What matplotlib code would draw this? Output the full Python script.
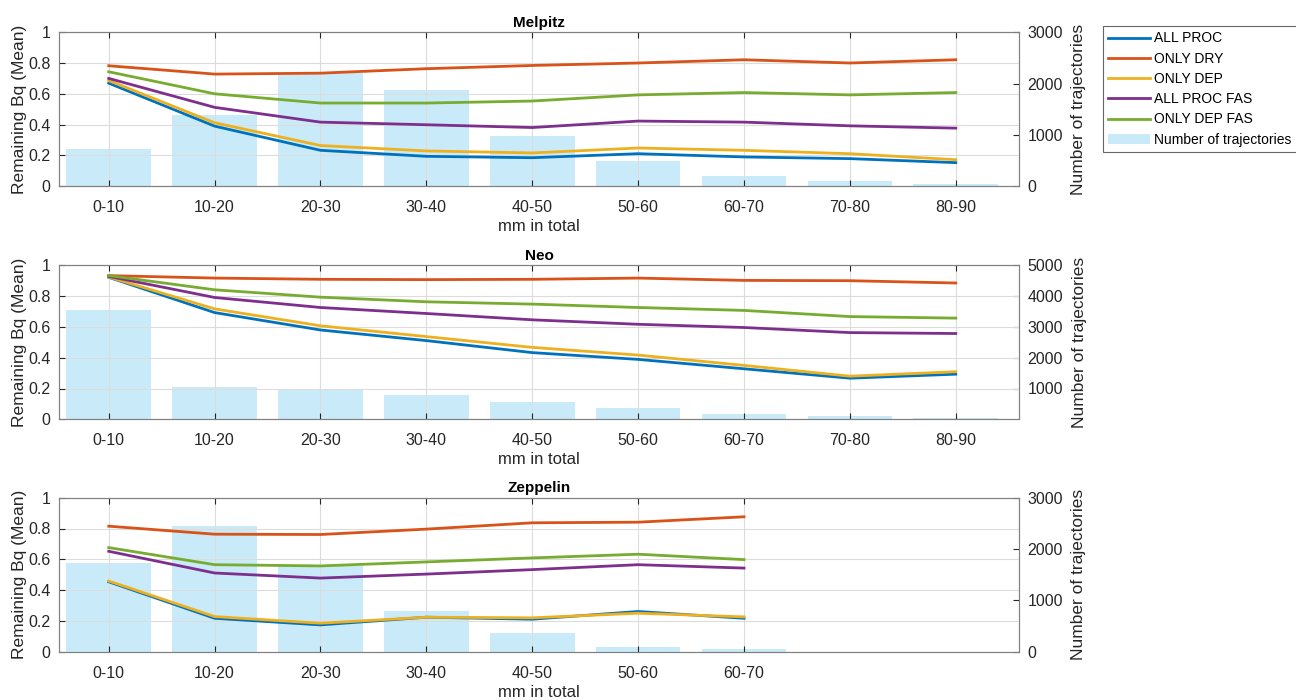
import numpy as np
import matplotlib
matplotlib.use("Agg")
import matplotlib.pyplot as plt

plt.rcParams["font.family"] = ["Liberation Sans", "DejaVu Sans"]

bins = ["0-10", "10-20", "20-30", "30-40", "40-50", "50-60", "60-70", "70-80", "80-90"]
series_names = ["ALL PROC", "ONLY DRY", "ONLY DEP", "ALL PROC FAS", "ONLY DEP FAS"]
series_colors = ["#0072BD", "#D95319", "#EDB120", "#7E2F8E", "#77AC30"]

# Melpitz
melpitz_counts = [720, 1385, 2200, 1870, 975, 495, 200, 97, 45]
melpitz_all_proc = [0.669, 0.390, 0.233, 0.194, 0.185, 0.211, 0.190, 0.179, 0.153]
melpitz_only_dry = [0.782, 0.728, 0.734, 0.763, 0.784, 0.800, 0.821, 0.800, 0.821]
melpitz_only_dep = [0.686, 0.412, 0.264, 0.229, 0.216, 0.248, 0.233, 0.211, 0.172]
melpitz_all_proc_fas = [0.700, 0.512, 0.416, 0.399, 0.381, 0.423, 0.416, 0.392, 0.377]
melpitz_only_dep_fas = [0.743, 0.600, 0.540, 0.540, 0.553, 0.593, 0.608, 0.593, 0.608]

# Neo
neo_counts = [3555, 1035, 1000, 805, 565, 360, 165, 98, 54]
neo_all_proc = [0.922, 0.693, 0.580, 0.511, 0.433, 0.389, 0.328, 0.267, 0.293]
neo_only_dry = [0.933, 0.917, 0.909, 0.907, 0.909, 0.917, 0.902, 0.900, 0.885]
neo_only_dep = [0.924, 0.717, 0.607, 0.537, 0.467, 0.417, 0.350, 0.280, 0.309]
neo_all_proc_fas = [0.928, 0.791, 0.726, 0.687, 0.646, 0.617, 0.596, 0.563, 0.557]
neo_only_dep_fas = [0.933, 0.841, 0.793, 0.763, 0.748, 0.726, 0.707, 0.667, 0.657]

# Zeppelin (only up to 60-70 mm)
zeppelin_counts = [1730, 2445, 1675, 790, 360, 85, 46]
zeppelin_all_proc = [0.454, 0.217, 0.174, 0.224, 0.211, 0.261, 0.217]
zeppelin_only_dry = [0.815, 0.763, 0.761, 0.796, 0.837, 0.841, 0.876]
zeppelin_only_dep = [0.459, 0.228, 0.185, 0.224, 0.220, 0.250, 0.226]
zeppelin_all_proc_fas = [0.652, 0.511, 0.478, 0.504, 0.533, 0.565, 0.543]
zeppelin_only_dep_fas = [0.676, 0.565, 0.557, 0.583, 0.609, 0.633, 0.598]

stations = [
    ("Melpitz", melpitz_counts,
     [melpitz_all_proc, melpitz_only_dry, melpitz_only_dep, melpitz_all_proc_fas, melpitz_only_dep_fas],
     3000, [0, 1000, 2000, 3000]),
    ("Neo", neo_counts,
     [neo_all_proc, neo_only_dry, neo_only_dep, neo_all_proc_fas, neo_only_dep_fas],
     5000, [1000, 2000, 3000, 4000, 5000]),
    ("Zeppelin", zeppelin_counts,
     [zeppelin_all_proc, zeppelin_only_dry, zeppelin_only_dep, zeppelin_all_proc_fas, zeppelin_only_dep_fas],
     3000, [0, 1000, 2000, 3000]),
]

bar_color = (0.30, 0.75, 0.93, 0.30)
axis_color = "#262626"

fig = plt.figure(figsize=(12.96, 7.0), dpi=100)
bottoms = [0.734, 0.401, 0.069]

for (name, counts, lines, cmax, rticks), b in zip(stations, bottoms):
    ax = fig.add_axes([0.0455, b, 0.741, 0.22])
    ax2 = ax.twinx()
    n = len(counts)
    x = np.arange(1, n + 1)

    bars = ax2.bar(x, counts, width=0.8, color=bar_color, linewidth=0,
                   label="Number of trajectories")
    ax2.set_ylim(0, cmax)
    ax2.set_yticks(rticks)
    ax2.set_ylabel("Number of trajectories", fontsize=12.5, color=axis_color, labelpad=6)

    handles = []
    for vals, lab, col in zip(lines, series_names, series_colors):
        h, = ax.plot(x, vals, color=col, lw=2.0, label=lab)
        handles.append(h)

    # lines and grid above the bars
    ax.set_zorder(ax2.get_zorder() + 1)
    ax.patch.set_visible(False)

    ax.set_xlim(0.53, 9.6)
    ax.set_ylim(0, 1)
    ax.set_xticks(x)
    ax.set_xticklabels(bins[:n])
    ax.set_yticks([0, 0.2, 0.4, 0.6, 0.8, 1])
    ax.set_yticklabels(["0", "0.2", "0.4", "0.6", "0.8", "1"])
    ax.grid(True, color="#dcdcdc", lw=0.8)
    ax.set_axisbelow(True)
    ax.set_ylabel("Remaining Bq (Mean)", fontsize=12.5, color=axis_color, labelpad=1)
    ax.set_xlabel("mm in total", fontsize=12, color=axis_color, labelpad=3)
    ax.set_title(name, fontsize=11, fontweight="bold", pad=4)

    for a in (ax, ax2):
        a.tick_params(direction="in", labelsize=11.5, colors=axis_color, length=4)
        for s in a.spines.values():
            s.set_color("#808080")
            s.set_linewidth(0.8)
    ax.tick_params(axis="x", top=True, pad=10)
    ax.tick_params(axis="y", pad=6)
    ax2.tick_params(axis="y", pad=6)

    if name == "Melpitz":
        leg_handles = handles + [bars]

leg = fig.legend(leg_handles, series_names + ["Number of trajectories"],
                 loc="upper left", bbox_to_anchor=(0.851, 0.963),
                 fontsize=10, frameon=True, fancybox=False, edgecolor="#404040",
                 handlelength=3.0, handletextpad=0.25, borderpad=0.4,
                 labelspacing=0.45, borderaxespad=0)
leg.get_frame().set_linewidth(0.8)

fig.savefig("out.png", dpi=100)
